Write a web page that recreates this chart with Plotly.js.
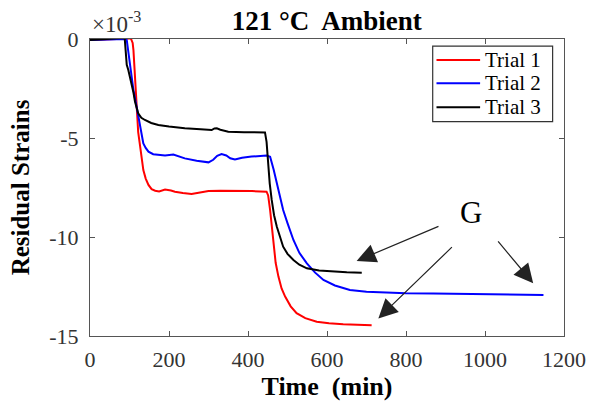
<!DOCTYPE html>
<html>
<head>
<meta charset="utf-8">
<script src="https://cdn.plot.ly/plotly-3.0.1.min.js"></script>
<style>html,body{margin:0;padding:0;background:#fff;}#chart{width:591px;height:402px;}</style>
</head>
<body>
<div id="chart"></div>
<script>
// Values in units of 1e-3 (strain ×10^-3)
const trial1Time = [0, 50, 100, 104, 108, 110, 114, 118, 122, 127, 131, 135, 141, 148, 156, 165, 175, 190, 205, 215, 235, 257, 275, 300, 330, 367, 410, 447, 451, 456, 464, 470, 477, 485, 494, 508, 523, 545, 574, 605, 641, 680, 713];
const trial1Strain = [-0.05, 0, 0.03, 0, -0.2, -0.56, -2.07, -3.75, -4.7, -5.44, -6.1, -6.62, -7.05, -7.37, -7.58, -7.66, -7.7, -7.6, -7.65, -7.71, -7.78, -7.83, -7.76, -7.68, -7.66, -7.66, -7.68, -7.71, -7.9, -8.64, -10.32, -11.3, -12.0, -12.6, -13.01, -13.5, -13.85, -14.1, -14.28, -14.36, -14.41, -14.44, -14.46];

const trial2Time = [0, 40, 90, 93, 97, 101, 105, 110, 118, 127, 131, 135, 141, 148, 160, 173, 190, 211, 225, 240, 270, 300, 312, 322, 333, 345, 355, 367, 385, 409, 447, 456, 465, 473, 481, 489, 500, 515, 530, 549, 570, 591, 620, 658, 700, 743, 800, 869, 987, 1148];
const trial2Strain = [-0.05, -0.02, 0, -0.05, -0.7, -1.4, -1.95, -2.58, -3.42, -4.43, -4.9, -5.27, -5.5, -5.69, -5.82, -5.86, -5.88, -5.83, -5.93, -6.03, -6.15, -6.23, -6.1, -5.9, -5.81, -5.88, -6.02, -6.08, -6.0, -5.94, -5.89, -5.95, -6.6, -7.29, -7.85, -8.64, -9.3, -10.15, -10.8, -11.33, -11.8, -12.17, -12.45, -12.68, -12.77, -12.81, -12.84, -12.85, -12.87, -12.93];

const trial3Time = [0, 40, 85, 88, 90, 93, 97, 101, 105.5, 110, 114, 118, 122, 130, 139, 155, 173, 200, 240, 280, 308, 315, 321, 330, 350, 390, 435, 443, 447, 451, 455, 460, 466, 473, 480, 489, 500, 515, 530, 549, 580, 616, 650, 688];
const trial3Strain = [-0.05, 0, 0.05, 0, -0.8, -1.3, -1.57, -1.9, -2.24, -2.7, -3.17, -3.5, -3.75, -3.98, -4.09, -4.24, -4.34, -4.42, -4.51, -4.56, -4.6, -4.52, -4.51, -4.58, -4.68, -4.71, -4.73, -4.72, -5.2, -6.45, -7.3, -8.13, -8.9, -9.48, -9.95, -10.49, -10.85, -11.16, -11.4, -11.58, -11.69, -11.75, -11.78, -11.8];

const seriesNames = ['Trial 1', 'Trial 2', 'Trial 3'];
const seriesColors = ['#ff0000', '#0000ff', '#000000'];
const xTicks = [0, 200, 400, 600, 800, 1000, 1200];
const yTicks = [0, -5, -10, -15];

const serif = 'Liberation Serif';
const axisColor = '#555555';
const tickFontColor = '#333333';

const traces = [
  [trial1Time, trial1Strain],
  [trial2Time, trial2Strain],
  [trial3Time, trial3Strain]
].map((d, i) => ({
  x: d[0], y: d[1], type: 'scatter', mode: 'lines', name: seriesNames[i],
  line: {color: seriesColors[i], width: 2}, showlegend: false
}));

const arrowStyle = {
  showarrow: true, text: '', axref: 'x', ayref: 'y', xref: 'x', yref: 'y',
  arrowhead: 2, arrowsize: 3.2, arrowwidth: 1.2, arrowcolor: '#222222'
};

// Legend drawn as a boxed key in paper coordinates
const legendRows = [0.929, 0.851, 0.770];
const legendShapes = [{
  type: 'rect', xref: 'paper', yref: 'paper', x0: 0.723, x1: 0.976, y0: 0.7215, y1: 0.976,
  line: {color: '#333333', width: 1.2}, fillcolor: '#ffffff', layer: 'above'
}].concat(seriesNames.map((n, i) => ({
  type: 'line', xref: 'paper', yref: 'paper', x0: 0.731, x1: 0.823, y0: legendRows[i], y1: legendRows[i],
  line: {color: seriesColors[i], width: 2}, layer: 'above'
})));
const legendTexts = seriesNames.map((n, i) => ({
  xref: 'paper', yref: 'paper', x: 0.829, y: legendRows[i], xanchor: 'left', yanchor: 'middle',
  text: n, showarrow: false, font: {family: serif, size: 21, color: '#000000'}
}));

const layout = {
  width: 591, height: 402,
  margin: {l: 90, r: 27, t: 39, b: 66},
  paper_bgcolor: '#ffffff', plot_bgcolor: '#ffffff',
  showlegend: false,
  title: {
    text: '<b>121 °C\u00a0 Ambient</b>',
    font: {family: serif, size: 27, color: '#000000'},
    x: 0.553, xanchor: 'center', xref: 'container',
    y: 0.95, yanchor: 'middle', yref: 'container'
  },
  xaxis: {
    range: [0, 1200], tickvals: xTicks, ticktext: xTicks.map(String),
    ticks: 'inside', ticklen: 5, tickcolor: axisColor, tickwidth: 1,
    showline: true, linecolor: axisColor, linewidth: 1, mirror: 'ticks',
    showgrid: false, zeroline: false,
    tickfont: {family: serif, size: 22, color: tickFontColor},
    ticklabelstandoff: 4,
    title: {text: '<b>Time\u00a0 (min)</b>', font: {family: serif, size: 26, color: '#000000'}, standoff: 4}
  },
  yaxis: {
    range: [-15, 0], tickvals: yTicks, ticktext: yTicks.map(String),
    ticks: 'inside', ticklen: 5, tickcolor: axisColor, tickwidth: 1,
    showline: true, linecolor: axisColor, linewidth: 1, mirror: 'ticks',
    showgrid: false, zeroline: false,
    tickfont: {family: serif, size: 22, color: tickFontColor},
    ticklabelstandoff: 6,
    title: {text: '<b>Residual Strains</b>', font: {family: serif, size: 25, color: '#000000'}, standoff: 12}
  },
  shapes: legendShapes,
  annotations: [
    {xref: 'paper', yref: 'paper', x: 0, y: 1, xanchor: 'left', yanchor: 'bottom', yshift: 0,
     text: '×10<sup>-3</sup>', showarrow: false, font: {family: serif, size: 23, color: tickFontColor}},
    {xref: 'x', yref: 'y', x: 965, y: -8.75, text: 'G', showarrow: false,
     font: {family: serif, size: 31, color: '#000000'}},
    Object.assign({x: 675, y: -11.21, ax: 886, ay: -9.43}, arrowStyle),
    Object.assign({x: 730, y: -14.11, ax: 920, ay: -10.44}, arrowStyle),
    Object.assign({x: 1122, y: -12.34, ax: 1030, ay: -10.15}, arrowStyle)
  ].concat(legendTexts)
};

Plotly.newPlot('chart', traces, layout, {staticPlot: true, displayModeBar: false});
</script>
</body>
</html>
